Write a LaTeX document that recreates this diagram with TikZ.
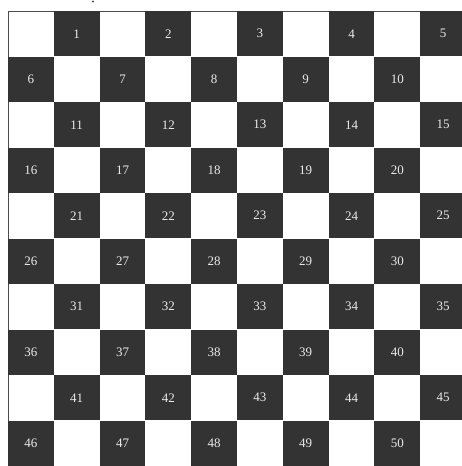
\documentclass[tikz,border=0pt]{standalone}
\usepackage{fontspec}
\setmainfont{Liberation Serif}
\begin{document}
\begin{tikzpicture}[x=1pt,y=-1pt,
  darksq/.style={fill=black!80, draw=none, minimum width=45.8pt, minimum height=45.4pt, inner sep=0pt, text=white!92!black, font=\fontsize{13}{13}\selectfont, anchor=center}]
\useasboundingbox (0,0) rectangle (462,466);
\fill[white] (0,0) rectangle (462,466);
\begin{scope}
\clip (0,0) rectangle (462,466);
\draw[black!70, line width=0.8pt] (8,11) rectangle (470,470);
\foreach \r in {0,...,9}{
  \foreach \k in {0,...,4}{
    \pgfmathtruncatemacro{\n}{\r*5+\k+1}
    \pgfmathtruncatemacro{\c}{isodd(\r) ? 2*\k : 2*\k+1}
    \node[darksq] (s\n) at ({8+45.8*\c+22.9},{11+45.5*\r+22.75}) {\n};
  }
}
\end{scope}
\fill[black!70] (93,1.5) circle (1.2);
\end{tikzpicture}
\end{document}
